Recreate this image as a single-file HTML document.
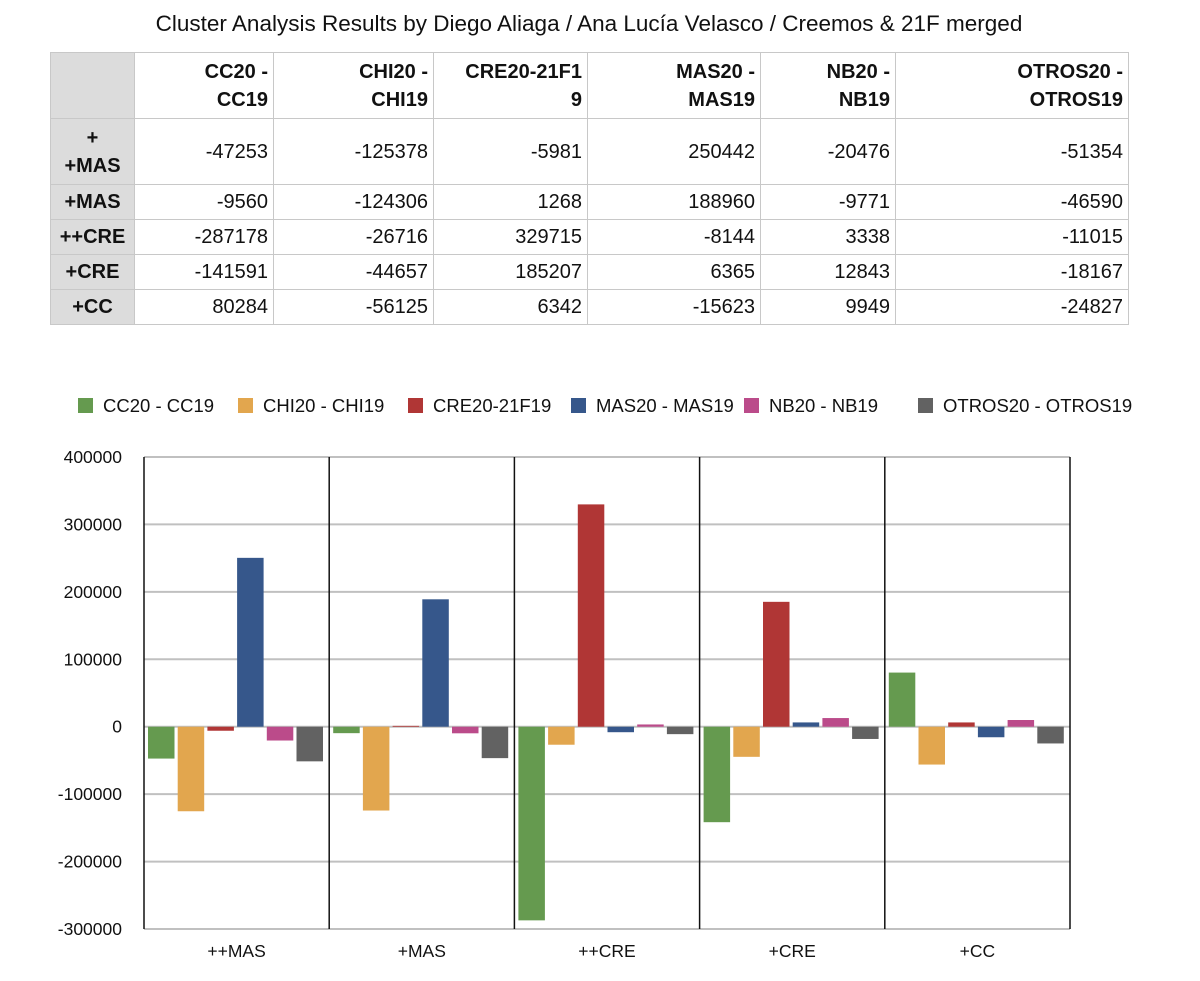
<!DOCTYPE html>
<html><head><meta charset="utf-8"><style>
body{margin:0;background:#fff;width:1200px;height:981px;overflow:hidden;font-family:"Liberation Sans",sans-serif}
#title{position:absolute;left:0;width:1178px;top:11px;text-align:center;font-size:22.5px;color:#111}
table{position:absolute;left:50px;top:52px;border-collapse:collapse;font-size:20px;color:#111;table-layout:fixed;width:1078px}
td,th{border:1px solid #c8c8c8;text-align:right;padding:0 5px;line-height:28px;overflow:hidden;white-space:nowrap}
th{font-weight:bold}
td.rh{background:#dcdcdc;font-weight:bold;text-align:center;padding:0 2px}
th.corner{background:#dcdcdc}
</style></head><body>
<div id="title">Cluster Analysis Results by Diego Aliaga / Ana Lucía Velasco / Creemos &amp; 21F merged</div>
<table>
<colgroup><col style="width:84px"><col style="width:139px"><col style="width:160px"><col style="width:154px"><col style="width:173px"><col style="width:135px"><col style="width:233px"></colgroup>
<tr style="height:66px"><th class="corner"></th><th>CC20 -<br>CC19</th><th>CHI20 -<br>CHI19</th><th>CRE20-21F1<br>9</th><th>MAS20 -<br>MAS19</th><th>NB20 -<br>NB19</th><th>OTROS20 -<br>OTROS19</th></tr>
<tr style="height:66px"><td class="rh">+<br>+MAS</td><td>-47253</td><td>-125378</td><td>-5981</td><td>250442</td><td>-20476</td><td>-51354</td></tr>
<tr style="height:35px"><td class="rh">+MAS</td><td>-9560</td><td>-124306</td><td>1268</td><td>188960</td><td>-9771</td><td>-46590</td></tr>
<tr style="height:35px"><td class="rh">++CRE</td><td>-287178</td><td>-26716</td><td>329715</td><td>-8144</td><td>3338</td><td>-11015</td></tr>
<tr style="height:35px"><td class="rh">+CRE</td><td>-141591</td><td>-44657</td><td>185207</td><td>6365</td><td>12843</td><td>-18167</td></tr>
<tr style="height:35px"><td class="rh">+CC</td><td>80284</td><td>-56125</td><td>6342</td><td>-15623</td><td>9949</td><td>-24827</td></tr>
</table>
<svg id="chart" width="1200" height="981" style="position:absolute;left:0;top:0"></svg>
<script>
const categories=["++MAS","+MAS","++CRE","+CRE","+CC"];
const seriesNames=["CC20 - CC19","CHI20 - CHI19","CRE20-21F19","MAS20 - MAS19","NB20 - NB19","OTROS20 - OTROS19"];
const cc=[-47253,-9560,-287178,-141591,80284];
const chi=[-125378,-124306,-26716,-44657,-56125];
const cre=[-5981,1268,329715,185207,6342];
const mas=[250442,188960,-8144,6365,-15623];
const nb=[-20476,-9771,3338,12843,9949];
const otros=[-51354,-46590,-11015,-18167,-24827];
const yTicks=[400000,300000,200000,100000,0,-100000,-200000,-300000];
const series=[cc,chi,cre,mas,nb,otros];
const colors=["#659a4f","#e2a64e","#b03635","#36578b","#bb4b8a","#626262"];
const legendX=[78,238,408,571,744,918];
const svg=document.getElementById('chart');const NS="http://www.w3.org/2000/svg";
function mk(t,a){const e=document.createElementNS(NS,t);for(const k in a)e.setAttribute(k,a[k]);svg.appendChild(e);return e;}
const L=144,R=1070,T=457,B=929,ymax=400000,ymin=-300000;
const y=v=>T+(ymax-v)/(ymax-ymin)*(B-T);
const cw=(R-L)/categories.length;
const x=i=>L+i*cw;
yTicks.forEach(t=>{
 const g=mk('line',{x1:L,x2:R,y1:y(t),y2:y(t),stroke:'#c0c0c0','stroke-width':2});
 
 const tx=mk('text',{x:122,y:y(t)+6,'text-anchor':'end','font-size':17.5,fill:'#111'});
 tx.textContent=t;
});
for(let i=0;i<=categories.length;i++){
 const l=mk('line',{x1:x(i),x2:x(i),y1:T,y2:B,stroke:'#111','stroke-width':1.5});
 
}
const pitch=29.7,bw=26.5;
categories.forEach((c,i)=>{
 series.forEach((s,j)=>{
  const v=s[i];const bx=x(i)+4+j*pitch;
  const r=mk('rect',{x:bx,y:Math.min(y(v),y(0)),width:bw,height:Math.abs(y(v)-y(0)),fill:colors[j]});
  
 });
 const t=mk('text',{x:x(i)+cw/2,y:957,'text-anchor':'middle','font-size':17.5,fill:'#111'});
 t.textContent=c;
});
seriesNames.forEach((n,j)=>{
 const r=mk('rect',{x:legendX[j],y:398,width:15,height:15,fill:colors[j]});
 
 const t=mk('text',{x:legendX[j]+25,y:412,'font-size':18.5,fill:'#111'});
 t.textContent=n;
});
</script>
</body></html>
